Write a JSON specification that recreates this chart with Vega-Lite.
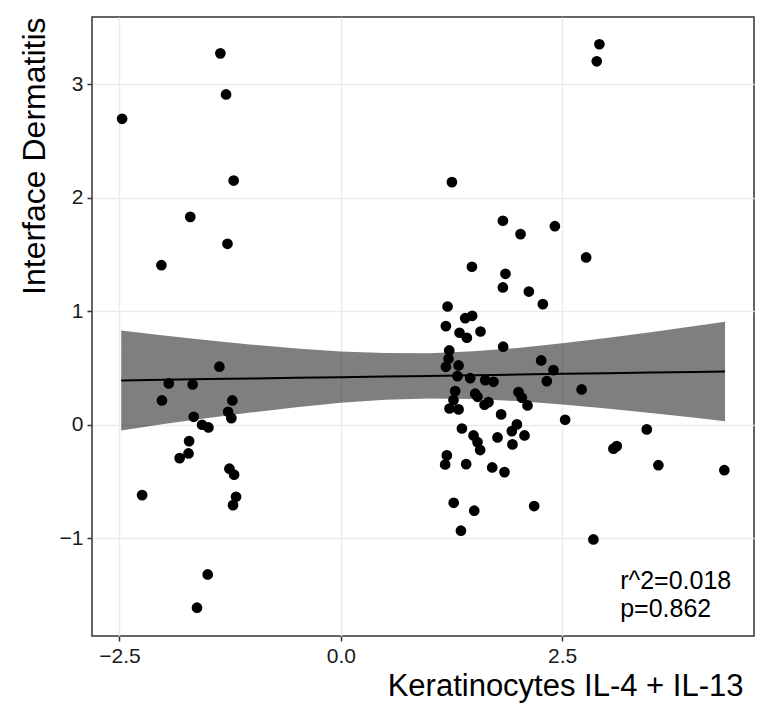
{
  "$schema": "https://vega.github.io/schema/vega-lite/v6.json",
  "width": 662,
  "height": 619,
  "autosize": {"type": "none"},
  "padding": {"left": 92, "top": 17, "right": 10, "bottom": 73},
  "background": "white",
  "config": {
    "view": {"stroke": "#333333", "strokeWidth": 1.5},
    "font": "Liberation Sans",
    "axis": {
      "domain": false,
      "grid": true,
      "gridColor": "#ebebeb",
      "gridWidth": 1.5,
      "tickColor": "#333333",
      "tickSize": 5,
      "tickWidth": 1.5,
      "labelFont": "Liberation Sans",
      "labelFontSize": 21,
      "labelColor": "#1a1a1a",
      "labelPadding": 4,
      "titleFont": "Liberation Sans",
      "titleFontSize": 31,
      "titleFontWeight": "normal",
      "titleColor": "#000000",
      "titleAnchor": "end"
    }
  },
  "datasets": {
    "points": [
      {"x": -1.36, "y": 3.27}, {"x": -1.296, "y": 2.908}, {"x": -2.47, "y": 2.694}, {"x": -1.21, "y": 2.15},
      {"x": -1.70, "y": 1.83}, {"x": -1.28, "y": 1.593}, {"x": -2.026, "y": 1.405}, {"x": -1.371, "y": 0.511},
      {"x": -1.943, "y": 0.364}, {"x": -1.673, "y": 0.355}, {"x": -2.02, "y": 0.214}, {"x": -1.225, "y": 0.214},
      {"x": -1.273, "y": 0.114}, {"x": -1.236, "y": 0.058}, {"x": -1.661, "y": 0.070}, {"x": -1.567, "y": 0.0},
      {"x": -1.495, "y": -0.024}, {"x": -1.713, "y": -0.144}, {"x": -1.72, "y": -0.253}, {"x": -1.82, "y": -0.294},
      {"x": -1.258, "y": -0.387}, {"x": -1.205, "y": -0.44}, {"x": -1.183, "y": -0.634}, {"x": -1.217, "y": -0.708},
      {"x": -2.244, "y": -0.62}, {"x": -1.503, "y": -1.318}, {"x": -1.624, "y": -1.611},
      {"x": 2.921, "y": 3.35}, {"x": 2.891, "y": 3.20}, {"x": 1.255, "y": 2.136}, {"x": 1.831, "y": 1.796},
      {"x": 2.03, "y": 1.678}, {"x": 2.418, "y": 1.748}, {"x": 2.771, "y": 1.473}, {"x": 1.481, "y": 1.391},
      {"x": 1.86, "y": 1.329}, {"x": 1.831, "y": 1.209}, {"x": 2.124, "y": 1.173}, {"x": 2.282, "y": 1.062},
      {"x": 1.206, "y": 1.041}, {"x": 1.405, "y": 0.938}, {"x": 1.484, "y": 0.959}, {"x": 1.187, "y": 0.868},
      {"x": 1.341, "y": 0.81}, {"x": 1.424, "y": 0.766}, {"x": 1.578, "y": 0.821}, {"x": 1.834, "y": 0.687},
      {"x": 1.225, "y": 0.654}, {"x": 1.217, "y": 0.581}, {"x": 1.187, "y": 0.510}, {"x": 1.33, "y": 0.522},
      {"x": 1.318, "y": 0.428}, {"x": 1.462, "y": 0.41}, {"x": 1.631, "y": 0.393}, {"x": 1.725, "y": 0.378},
      {"x": 2.263, "y": 0.566}, {"x": 2.402, "y": 0.481}, {"x": 2.327, "y": 0.384}, {"x": 2.72, "y": 0.311},
      {"x": 1.292, "y": 0.296}, {"x": 1.518, "y": 0.273}, {"x": 1.544, "y": 0.246}, {"x": 1.273, "y": 0.217},
      {"x": 1.228, "y": 0.143}, {"x": 1.33, "y": 0.135}, {"x": 1.668, "y": 0.199}, {"x": 1.623, "y": 0.176},
      {"x": 2.007, "y": 0.287}, {"x": 2.045, "y": 0.238}, {"x": 2.109, "y": 0.17}, {"x": 1.811, "y": 0.091},
      {"x": 2.534, "y": 0.044}, {"x": 1.368, "y": -0.033}, {"x": 1.499, "y": -0.094}, {"x": 1.544, "y": -0.153},
      {"x": 1.574, "y": -0.223}, {"x": 1.77, "y": -0.112}, {"x": 1.989, "y": 0.003}, {"x": 1.932, "y": -0.056},
      {"x": 2.075, "y": -0.094}, {"x": 1.939, "y": -0.173}, {"x": 1.198, "y": -0.27}, {"x": 1.179, "y": -0.35},
      {"x": 1.416, "y": -0.347}, {"x": 1.71, "y": -0.376}, {"x": 1.849, "y": -0.417}, {"x": 1.275, "y": -0.687},
      {"x": 1.507, "y": -0.757}, {"x": 2.184, "y": -0.716}, {"x": 1.357, "y": -0.933}, {"x": 2.853, "y": -1.01},
      {"x": 3.456, "y": -0.041}, {"x": 3.079, "y": -0.211}, {"x": 3.117, "y": -0.188}, {"x": 3.587, "y": -0.356},
      {"x": 4.332, "y": -0.40}
    ],
    "band": [
      {"x": -2.48, "fit": 0.390, "lo": -0.050, "hi": 0.830},
      {"x": -2.0, "fit": 0.396, "lo": 0.006, "hi": 0.786},
      {"x": -1.5, "fit": 0.402, "lo": 0.060, "hi": 0.744},
      {"x": -1.0, "fit": 0.407, "lo": 0.109, "hi": 0.705},
      {"x": -0.5, "fit": 0.413, "lo": 0.155, "hi": 0.671},
      {"x": 0.0, "fit": 0.419, "lo": 0.193, "hi": 0.645},
      {"x": 0.5, "fit": 0.425, "lo": 0.219, "hi": 0.631},
      {"x": 1.0, "fit": 0.430, "lo": 0.230, "hi": 0.630},
      {"x": 1.5, "fit": 0.436, "lo": 0.226, "hi": 0.646},
      {"x": 2.0, "fit": 0.442, "lo": 0.208, "hi": 0.676},
      {"x": 2.5, "fit": 0.448, "lo": 0.179, "hi": 0.717},
      {"x": 3.0, "fit": 0.453, "lo": 0.143, "hi": 0.763},
      {"x": 3.5, "fit": 0.459, "lo": 0.104, "hi": 0.814},
      {"x": 4.0, "fit": 0.465, "lo": 0.061, "hi": 0.869},
      {"x": 4.34, "fit": 0.469, "lo": 0.031, "hi": 0.907}
    ],
    "notes": [
      {"x": 3.155, "y": -1.45, "label": "r^2=0.018"},
      {"x": 3.155, "y": -1.69, "label": "p=0.862"}
    ]
  },
  "encoding": {
    "x": {
      "field": "x", "type": "quantitative",
      "scale": {"domain": [-2.81, 4.667], "nice": false, "zero": false},
      "axis": {"values": [-2.5, 0, 2.5], "format": ".1f", "title": "Keratinocytes IL-4 + IL-13", "titlePadding": 5, "titleX": 651, "titleAlign": "right"}
    }
  },
  "layer": [
    {
      "data": {"name": "band"},
      "mark": {"type": "area", "color": "#000000", "opacity": 0.5},
      "encoding": {
        "y": {"field": "lo", "type": "quantitative", "scale": {"domain": [-1.86, 3.59], "nice": false, "zero": false},
              "axis": {"values": [-1, 0, 1, 2, 3], "format": "d", "title": "Interface Dermatitis", "titleFontSize": 32, "titlePadding": 8}},
        "y2": {"field": "hi"}
      }
    },
    {
      "data": {"name": "band"},
      "mark": {"type": "line", "color": "#000000", "strokeWidth": 2},
      "encoding": {"y": {"field": "fit", "type": "quantitative"}}
    },
    {
      "data": {"name": "points"},
      "mark": {"type": "circle", "color": "#000000", "opacity": 1, "size": 115},
      "encoding": {"y": {"field": "y", "type": "quantitative"}}
    },
    {
      "data": {"name": "notes"},
      "mark": {"type": "text", "align": "left", "baseline": "alphabetic", "fontSize": 25, "font": "Liberation Sans", "color": "#000000"},
      "encoding": {"y": {"field": "y", "type": "quantitative"}, "text": {"field": "label"}}
    }
  ]
}
